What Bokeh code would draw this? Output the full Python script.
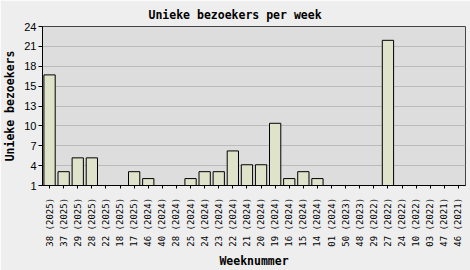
from bokeh.plotting import figure
from bokeh.models import Range1d, FixedTicker, FactorRange
from bokeh.embed import file_html
from bokeh.resources import INLINE

# Data
weeks = ["38  (2025)", "37  (2025)", "29  (2025)", "28  (2025)", "22  (2025)", "18  (2025)", "17  (2025)",
         "46  (2024)", "40  (2024)", "28  (2024)", "25  (2024)", "24  (2024)", "23  (2024)", "22  (2024)",
         "21  (2024)", "20  (2024)", "19  (2024)", "16  (2024)", "15  (2024)", "14  (2024)", "01  (2024)",
         "50  (2023)", "48  (2023)", "29  (2022)", "27  (2022)", "24  (2022)", "10  (2022)", "03  (2022)",
         "47  (2021)", "46  (2021)"]
visitors = [17, 3, 5, 5, 1, 1, 3,
            2, 1, 1, 2, 3, 3, 6,
            4, 4, 10, 2, 3, 2, 1,
            1, 1, 1, 22, 1, 1, 1,
            1, 1]
y_min, y_max = 1, 24
y_tick_labels = ["1", "4", "7", "10", "13", "15", "18", "21", "24"]

p = figure(width=470, height=270, x_range=FactorRange(*weeks, range_padding=0),
           y_range=Range1d(y_min, y_max), output_backend="svg", toolbar_location=None,
           title="Unieke bezoekers per week",
           min_border_left=41, min_border_right=5, min_border_top=24, min_border_bottom=83)

p.vbar(x=weeks, top=visitors, bottom=y_min, width=0.8, fill_color="#dfe3c9",
       line_color="black", line_width=1)

n = len(y_tick_labels) - 1
ticks = [y_min + i * (y_max - y_min) / n for i in range(n + 1)]
p.yaxis.ticker = FixedTicker(ticks=ticks)
p.yaxis.major_label_overrides = {t: l for t, l in zip(ticks, y_tick_labels)}

p.background_fill_color = "#dddddd"
p.border_fill_color = "#eeeeee"
p.outline_line_color = "#444444"
p.outline_line_width = 1

p.xgrid.grid_line_color = None
p.ygrid.grid_line_color = "#bbbbbb"
p.ygrid.grid_line_width = 1

p.title.text_font = "DejaVu Sans Mono"
p.title.text_font_style = "bold"
p.title.text_font_size = "11.5px"
p.title.align = "left"
p.title.offset = 106
p.title.text_color = "black"

for ax in (p.xaxis, p.yaxis):
    ax.axis_line_color = "black"
    ax.major_tick_line_color = "black"
    ax.minor_tick_line_color = None
    ax.major_tick_in = 0
    ax.axis_label_text_font = "DejaVu Sans Mono"
    ax.axis_label_text_font_style = "bold"
    ax.axis_label_text_font_size = "11.5px"
    ax.axis_label_text_color = "black"
    ax.major_label_text_color = "black"

p.yaxis.axis_label = "Unieke bezoekers"
p.yaxis.major_tick_out = 4
p.yaxis.major_label_standoff = 2
p.yaxis.axis_label_standoff = 4
p.yaxis.major_label_text_font = "Liberation Sans"
p.yaxis.major_label_text_font_size = "11px"

p.xaxis.axis_label = "Weeknummer"
p.xaxis.major_tick_out = 3
p.xaxis.major_label_orientation = 1.5708
p.xaxis.major_label_standoff = 4
p.xaxis.axis_label_standoff = 4
p.xaxis.major_label_text_font = "DejaVu Sans Mono"
p.xaxis.major_label_text_font_size = "9px"

open("out.html", "w").write(file_html(p, INLINE))
